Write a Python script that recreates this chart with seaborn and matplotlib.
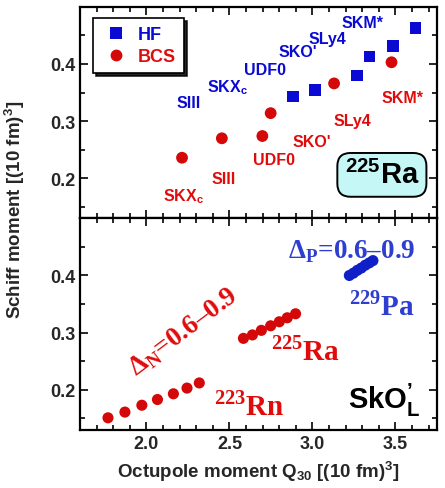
import numpy as np
import pandas as pd
import matplotlib
matplotlib.use("Agg")
import matplotlib.pyplot as plt
import seaborn as sns
from matplotlib.ticker import MultipleLocator

sns.set_theme(style="ticks")
plt.rcParams['font.family'] = ['Liberation Sans', 'DejaVu Sans']
plt.rcParams['font.weight'] = 'bold'
plt.rcParams['mathtext.fontset'] = 'custom'
plt.rcParams['mathtext.rm'] = 'Liberation Serif:bold'
plt.rcParams['mathtext.bf'] = 'Liberation Serif:bold'
plt.rcParams['mathtext.sf'] = 'Liberation Sans:bold'
plt.rcParams['mathtext.it'] = 'Liberation Sans:bold'

# ---- data: upper panel (225Ra, various functionals) ----
hf_q30 = [2.884, 3.014, 3.27, 3.344, 3.484, 3.62]
hf_schiff = [0.343, 0.354, 0.380, 0.413, 0.432, 0.463]
bcs_q30 = [2.214, 2.454, 2.698, 2.748, 3.13, 3.476]
bcs_schiff = [0.236, 0.270, 0.274, 0.314, 0.366, 0.403]

hf_label_text = ["SKM*", "SLy4", "SKO'", "UDF0", "SKX$_\\mathsf{c}$", "SIII"]
hf_label_x = [3.30, 3.09, 2.91, 2.714, 2.486, 2.252]
hf_label_y = [0.473, 0.445, 0.421, 0.390, 0.360, 0.332]
bcs_label_text = ["SKM*", "SLy4", "SKO'", "UDF0", "SIII", "SKX$_\\mathsf{c}$"]
bcs_label_x = [3.542, 3.242, 2.996, 2.768, 2.462, 2.222]
bcs_label_y = [0.341, 0.301, 0.264, 0.233, 0.200, 0.169]

# ---- data: lower panel (SkO'_L, pairing gap 0.6-0.9) ----
rn_q30 = [1.768, 1.870, 1.972, 2.066, 2.162, 2.244, 2.318]
rn_schiff = [0.151, 0.161, 0.173, 0.183, 0.193, 0.203, 0.212]
ra_q30 = [2.584, 2.638, 2.692, 2.748, 2.800, 2.848, 2.898]
ra_schiff = [0.290, 0.296, 0.304, 0.312, 0.319, 0.326, 0.333]
pa_q30 = [3.222, 3.246, 3.270, 3.294, 3.318, 3.342, 3.364]
pa_schiff = [0.400, 0.404, 0.409, 0.413, 0.418, 0.422, 0.426]

RED = "#e00c0c"
DOTRED = "#d40808"
BLUE = "#0a0ad2"
PABLUE = "#2e3ed0"

fig = plt.figure(figsize=(4.45, 4.89), dpi=100)
gs = fig.add_gridspec(2, 1, hspace=0, left=0.180, right=0.982, top=0.984, bottom=0.119)
ax1 = fig.add_subplot(gs[0])
ax2 = fig.add_subplot(gs[1], sharex=ax1)

df_up = pd.DataFrame({
    "q30": hf_q30 + bcs_q30,
    "schiff": hf_schiff + bcs_schiff,
    "method": ["HF"] * len(hf_q30) + ["BCS"] * len(bcs_q30),
})
sns.scatterplot(data=df_up, x="q30", y="schiff", hue="method", style="method",
                hue_order=["HF", "BCS"], style_order=["HF", "BCS"],
                markers={"HF": "s", "BCS": "o"},
                palette={"HF": BLUE, "BCS": DOTRED},
                s=72, linewidth=0, ax=ax1, legend=True)

for t, x, y in zip(hf_label_text, hf_label_x, hf_label_y):
    ax1.text(x, y, t, color=BLUE, fontsize=11.5, fontweight='bold', ha='center', va='center')
for t, x, y in zip(bcs_label_text, bcs_label_x, bcs_label_y):
    ax1.text(x, y, t, color=RED, fontsize=11.5, fontweight='bold', ha='center', va='center')

leg = ax1.legend(loc='upper left', bbox_to_anchor=(0.036, 0.948), borderaxespad=0,
                 frameon=True, fancybox=False, shadow={'color': 'black', 'alpha': 0.85},
                 edgecolor='black', prop={'weight': 'bold', 'size': 13},
                 handletextpad=0.35, borderpad=0.45, labelspacing=0.3, handlelength=1.7,
                 markerscale=1.0)
leg.get_frame().set_linewidth(1.2)
for txt, c in zip(leg.get_texts(), [BLUE, RED]):
    txt.set_color(c)
for h in leg.legend_handles:
    if hasattr(h, 'set_markersize'):
        h.set_markersize(8.5)
    elif hasattr(h, 'set_sizes'):
        h.set_sizes([72])

ax1.text(3.418, 0.206, "$^\\mathsf{225}$Ra", fontsize=21, fontweight='bold', ha='center',
         va='center', color='black',
         bbox=dict(boxstyle='round,pad=0.25,rounding_size=0.45', fc='#c6f7f7', ec='black', lw=1.4))

# lower panel
df_low = pd.DataFrame({
    "q30": rn_q30 + ra_q30 + pa_q30,
    "schiff": rn_schiff + ra_schiff + pa_schiff,
    "nucleus": ["223Rn"] * len(rn_q30) + ["225Ra"] * len(ra_q30) + ["229Pa"] * len(pa_q30),
})
sns.scatterplot(data=df_low, x="q30", y="schiff", hue="nucleus",
                palette={"223Rn": DOTRED, "225Ra": DOTRED, "229Pa": "#1020c8"},
                s=64, linewidth=0, ax=ax2, legend=False)

ax2.text(2.85, 0.443, "Δ$_\\mathrm{P}$=0.6–0.9", color=PABLUE, fontsize=19.5,
         family='Liberation Serif', fontweight='bold', ha='left', va='center')
ax2.text(3.416, 0.348, "$^\\mathrm{229}$Pa", color=PABLUE, fontsize=21,
         family='Liberation Serif', fontweight='bold', ha='center', va='center')
ax2.text(2.96, 0.269, "$^\\mathrm{225}$Ra", color=RED, fontsize=21,
         family='Liberation Serif', fontweight='bold', ha='center', va='center')
ax2.text(2.618, 0.172, "$^\\mathrm{223}$Rn", color=RED, fontsize=21,
         family='Liberation Serif', fontweight='bold', ha='center', va='center')
ax2.text(2.222, 0.302, "Δ$_\\mathrm{N}$=0.6–0.9", color=RED, fontsize=19.5,
         family='Liberation Serif', fontweight='bold', ha='center', va='center',
         rotation=37, rotation_mode='anchor')
ax2.text(3.434, 0.183, "SkO$^{\\mathsf{’}}_{\\mathsf{L}}$", color='black', fontsize=21,
         fontweight='bold', ha='center', va='center')

for ax in (ax1, ax2):
    ax.set_xlim(1.6, 3.75)
    ax.set_ylim(0.13, 0.50)
    ax.tick_params(which='both', direction='in', top=True, right=True, width=1.4)
    ax.tick_params(which='major', length=6, labelsize=13)
    ax.tick_params(which='minor', length=3.5)
    for sp in ax.spines.values():
        sp.set_linewidth(1.6)
        sp.set_color('black')
    ax.set_ylabel("")
    ax.set_xlabel("")

ax1.tick_params(labelbottom=False)
ax1.set_yticks([0.2, 0.3, 0.4])
ax2.set_yticks([0.2, 0.3, 0.4])
ax2.set_xticks([2.0, 2.5, 3.0, 3.5])
ax2.set_xticklabels(["2.0", "2.5", "3.0", "3.5"], fontweight='bold')
ax1.set_yticklabels(["0.2", "0.3", "0.4"], fontweight='bold')
ax2.set_yticklabels(["0.2", "0.3", "0.4"], fontweight='bold')
for ax in (ax1, ax2):
    ax.xaxis.set_minor_locator(MultipleLocator(0.1))
    ax.yaxis.set_minor_locator(MultipleLocator(0.05))

fig.text(0.034, 0.571, "Schiff moment [(10 fm)$^\\mathsf{3}$]", rotation=90,
         ha='center', va='center', fontsize=13.5, fontweight='bold')
ax2.set_xlabel("Octupole moment Q$_\\mathsf{30}$ [(10 fm)$^\\mathsf{3}$]", fontsize=13.5,
               fontweight='bold', labelpad=5)

fig.savefig("out.png", dpi=100)
